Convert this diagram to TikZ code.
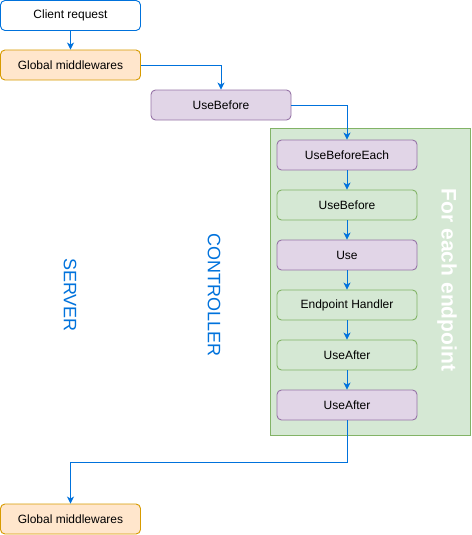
\documentclass[tikz,border=0pt]{standalone}
\usepackage{fontspec}
\setmainfont{Liberation Sans}
\usetikzlibrary{arrows.meta}
\definecolor{flowblue}{RGB}{0,114,220}
\definecolor{orfill}{HTML}{FFE6CC}
\definecolor{ordraw}{HTML}{D79B00}
\definecolor{pufill}{HTML}{E1D5E7}
\definecolor{pudraw}{HTML}{9673A6}
\definecolor{grfill}{HTML}{D5E8D4}
\definecolor{grdraw}{HTML}{82B366}
\begin{document}
\begin{tikzpicture}[x=1pt,y=-1pt,
  base/.style={rounded corners=4.5pt, line width=0.9pt, minimum width=140pt, minimum height=30pt, inner sep=0pt, font=\fontsize{12}{14}\selectfont},
  clientbox/.style={base, draw=flowblue, fill=white},
  globalbox/.style={base, draw=ordraw, fill=orfill},
  purplebox/.style={base, draw=pudraw, fill=pufill},
  greenbox/.style={base, draw=grdraw, fill=grfill},
  flow/.style={draw=flowblue, line width=0.9pt, -{Stealth[length=7pt,width=7pt,inset=2pt]}},
  sidelabel/.style={text=flowblue, font=\fontsize{18}{20}\selectfont, rotate=-90, inner sep=0pt}
]
\useasboundingbox (0,0) rectangle (471,535);
\node[draw=grdraw, fill=grfill, line width=0.9pt, minimum width=200pt, minimum height=307pt, inner sep=0pt] (container) at (370,281.5) {};
\node[text=white, font=\bfseries\fontsize{21}{24}\selectfont, rotate=-90, inner sep=0pt] (foreach) at (447,280) {For each endpoint};
\node[sidelabel] (server) at (70,295) {SERVER};
\node[sidelabel] (controller) at (214,295) {CONTROLLER};

\node[clientbox] (client) at (70.5,15.5) {Client request};
\node[globalbox] (gm1) at (70.5,65) {Global middlewares};
\node[purplebox] (ub1) at (221,105) {UseBefore};
\node[purplebox] (ube) at (347,155) {UseBeforeEach};
\node[greenbox] (ub2) at (347,205) {UseBefore};
\node[purplebox] (use) at (347,255) {Use};
\node[greenbox] (eh) at (347,305) {Endpoint Handler};
\node[greenbox] (ua1) at (347,355) {UseAfter};
\node[purplebox] (ua2) at (347,405) {UseAfter};
\node[globalbox] (gm2) at (70.5,519) {Global middlewares};
\coordinate (turn) at (347,462);

\draw[flow] (client) -- (gm1);
\draw[flow] (gm1.east) -| (ub1.north);
\draw[flow] (ub1.east) -| (ube.north);
\draw[flow] (ube) -- (ub2);
\draw[flow] (ub2) -- (use);
\draw[flow] (use) -- (eh);
\draw[flow] (eh) -- (ua1);
\draw[flow] (ua1) -- (ua2);
\draw[flow] (ua2.south) -- (turn) -| (gm2.north);
\end{tikzpicture}
\end{document}
